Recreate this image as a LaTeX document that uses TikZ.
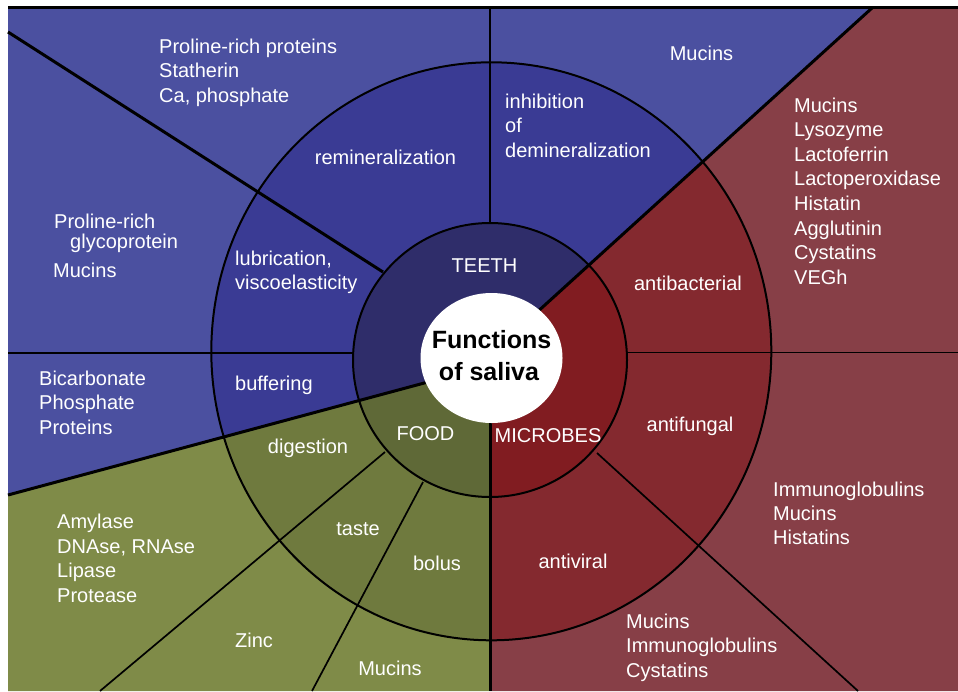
\documentclass[tikz,border=0pt]{standalone}
\usepackage{fontspec}
\setmainfont{Liberation Sans}
\begin{document}
\begin{tikzpicture}[x=1pt,y=-1pt,
  lbl/.style={text=white, inner sep=0pt, font=\fontsize{20}{24}\selectfont},
  titletext/.style={text=black, inner sep=0pt, font=\fontsize{25}{30}\selectfont\bfseries},
  divthick/.style={line width=3pt, black},
  divthin/.style={line width=1.7pt, black},
  ringline/.style={line width=2pt, black}]
\definecolor{blueOut}{RGB}{75,80,160}
\definecolor{blueMid}{RGB}{58,59,148}
\definecolor{blueIn}{RGB}{47,45,106}
\definecolor{redOut}{RGB}{135,63,71}
\definecolor{redMid}{RGB}{132,41,47}
\definecolor{redIn}{RGB}{129,28,33}
\definecolor{greenOut}{RGB}{127,139,72}
\definecolor{greenMid}{RGB}{111,122,62}
\definecolor{greenIn}{RGB}{95,105,55}

\useasboundingbox (0,0) rectangle (958,691);
\fill[white] (0,0) rectangle (958,691);

% the three sectors, meeting inside the white disc
\def\secTeeth{(8,8) -- (872,8) -- (500,345.8) -- (490,358) -- (480,368) -- (8,495) -- cycle}
\def\secMicro{(872,8) -- (958,8) -- (958,691) -- (490,691) -- (490,358) -- (500,345.8) -- cycle}
\def\secFood{(8,495) -- (480,368) -- (490,358) -- (490,691) -- (8,691) -- cycle}

% outer band: substances
\fill[blueOut] \secTeeth;
\fill[redOut] \secMicro;
\fill[greenOut] \secFood;
% middle band: functions
\begin{scope}
  \clip (491.3,351.3) ellipse [x radius=280, y radius=289];
  \fill[blueMid] \secTeeth;
  \fill[redMid] \secMicro;
  \fill[greenMid] \secFood;
\end{scope}
% inner band: groups
\begin{scope}
  \clip (490,360) circle [radius=137];
  \fill[blueIn] \secTeeth;
  \fill[redIn] \secMicro;
  \fill[greenIn] \secFood;
\end{scope}

% dividers
\draw[divthin] (490,8) -- (490,223);
\draw[divthick] (8,32) -- (383,272);
\draw[divthin] (8,353) -- (353,353);
\draw[divthick] (8,495) -- (480,368);
\draw[divthick] (872,8) -- (500,345.8);
\draw[divthick] (490,358) -- (490,691);
\draw[divthin] (385,452) -- (100,691);
\draw[divthin] (423,482) -- (312,691);
\draw[divthin] (597,453) -- (858,691);
\draw[divthin] (627,352.5) -- (958,352.5);
\draw[line width=2.5pt] (8,7.5) -- (958,7.5);

% rings
\draw[ringline] (490,360) circle [radius=137];
\draw[ringline] (491.3,351.3) ellipse [x radius=280, y radius=289];
\fill[white] (491.5,358) ellipse [x radius=71, y radius=65];

% centre
\node[titletext, anchor=base] (fn1) at (491.5,348) {Functions};
\node[titletext, anchor=base] (fn2) at (489,380) {of saliva};

% groups
\node[lbl, anchor=base] (teeth) at (484.5,272) {TEETH};
\node[lbl, anchor=base] (food) at (425.5,440) {FOOD};
\node[lbl, anchor=base] (microbes) at (548,442) {MICROBES};

% functions
\node[lbl, anchor=base] (remin) at (385.5,164) {remineralization};
\foreach \t [count=\i from 0] in {inhibition, of, demineralization}
  \node[lbl, anchor=base west] (inhib\i) at (505,108+24.5*\i) {\t};
\foreach \t [count=\i from 0] in {{lubrication,}, viscoelasticity}
  \node[lbl, anchor=base west] (lubr\i) at (235,265+24*\i) {\t};
\node[lbl, anchor=base west] (buffer) at (235,390.5) {buffering};
\node[lbl, anchor=base] (digest) at (308,453.5) {digestion};
\node[lbl, anchor=base] (taste) at (358,535) {taste};
\node[lbl, anchor=base] (bolus) at (437,570) {bolus};
\node[lbl, anchor=base] (antibac) at (688,290) {antibacterial};
\node[lbl, anchor=base] (antifung) at (690,431.5) {antifungal};
\node[lbl, anchor=base] (antivir) at (573,568) {antiviral};

% substances
\foreach \t [count=\i from 0] in {Proline-rich proteins, Statherin, {Ca, phosphate}}
  \node[lbl, anchor=base west] (remsub\i) at (159,53.3+24.6*\i) {\t};
\node[lbl, anchor=base] (demsub) at (701.5,60.5) {Mucins};
\node[lbl, anchor=base west] (lubsub0) at (54,228) {Proline-rich};
\node[lbl, anchor=base west] (lubsub1) at (70,248) {glycoprotein};
\node[lbl, anchor=base west] (lubsub2) at (53,277) {Mucins};
\foreach \t [count=\i from 0] in {Bicarbonate, Phosphate, Proteins}
  \node[lbl, anchor=base west] (bufsub\i) at (39,385+24.6*\i) {\t};
\foreach \t [count=\i from 0] in {Amylase, {DNAse, RNAse}, Lipase, Protease}
  \node[lbl, anchor=base west] (digsub\i) at (57,528.5+24.6*\i) {\t};
\node[lbl, anchor=base] (tastesub) at (254,647) {Zinc};
\node[lbl, anchor=base] (bolussub) at (390,675) {Mucins};
\foreach \t [count=\i from 0] in {Mucins, Lysozyme, Lactoferrin, Lactoperoxidase, Histatin, Agglutinin, Cystatins, VEGh}
  \node[lbl, anchor=base west] (bacsub\i) at (794,112+24.6*\i) {\t};
\foreach \t [count=\i from 0] in {Immunoglobulins, Mucins, Histatins}
  \node[lbl, anchor=base west] (fungsub\i) at (773,496+24*\i) {\t};
\foreach \t [count=\i from 0] in {Mucins, Immunoglobulins, Cystatins}
  \node[lbl, anchor=base west] (virsub\i) at (626,628+24.6*\i) {\t};
\end{tikzpicture}
\end{document}
